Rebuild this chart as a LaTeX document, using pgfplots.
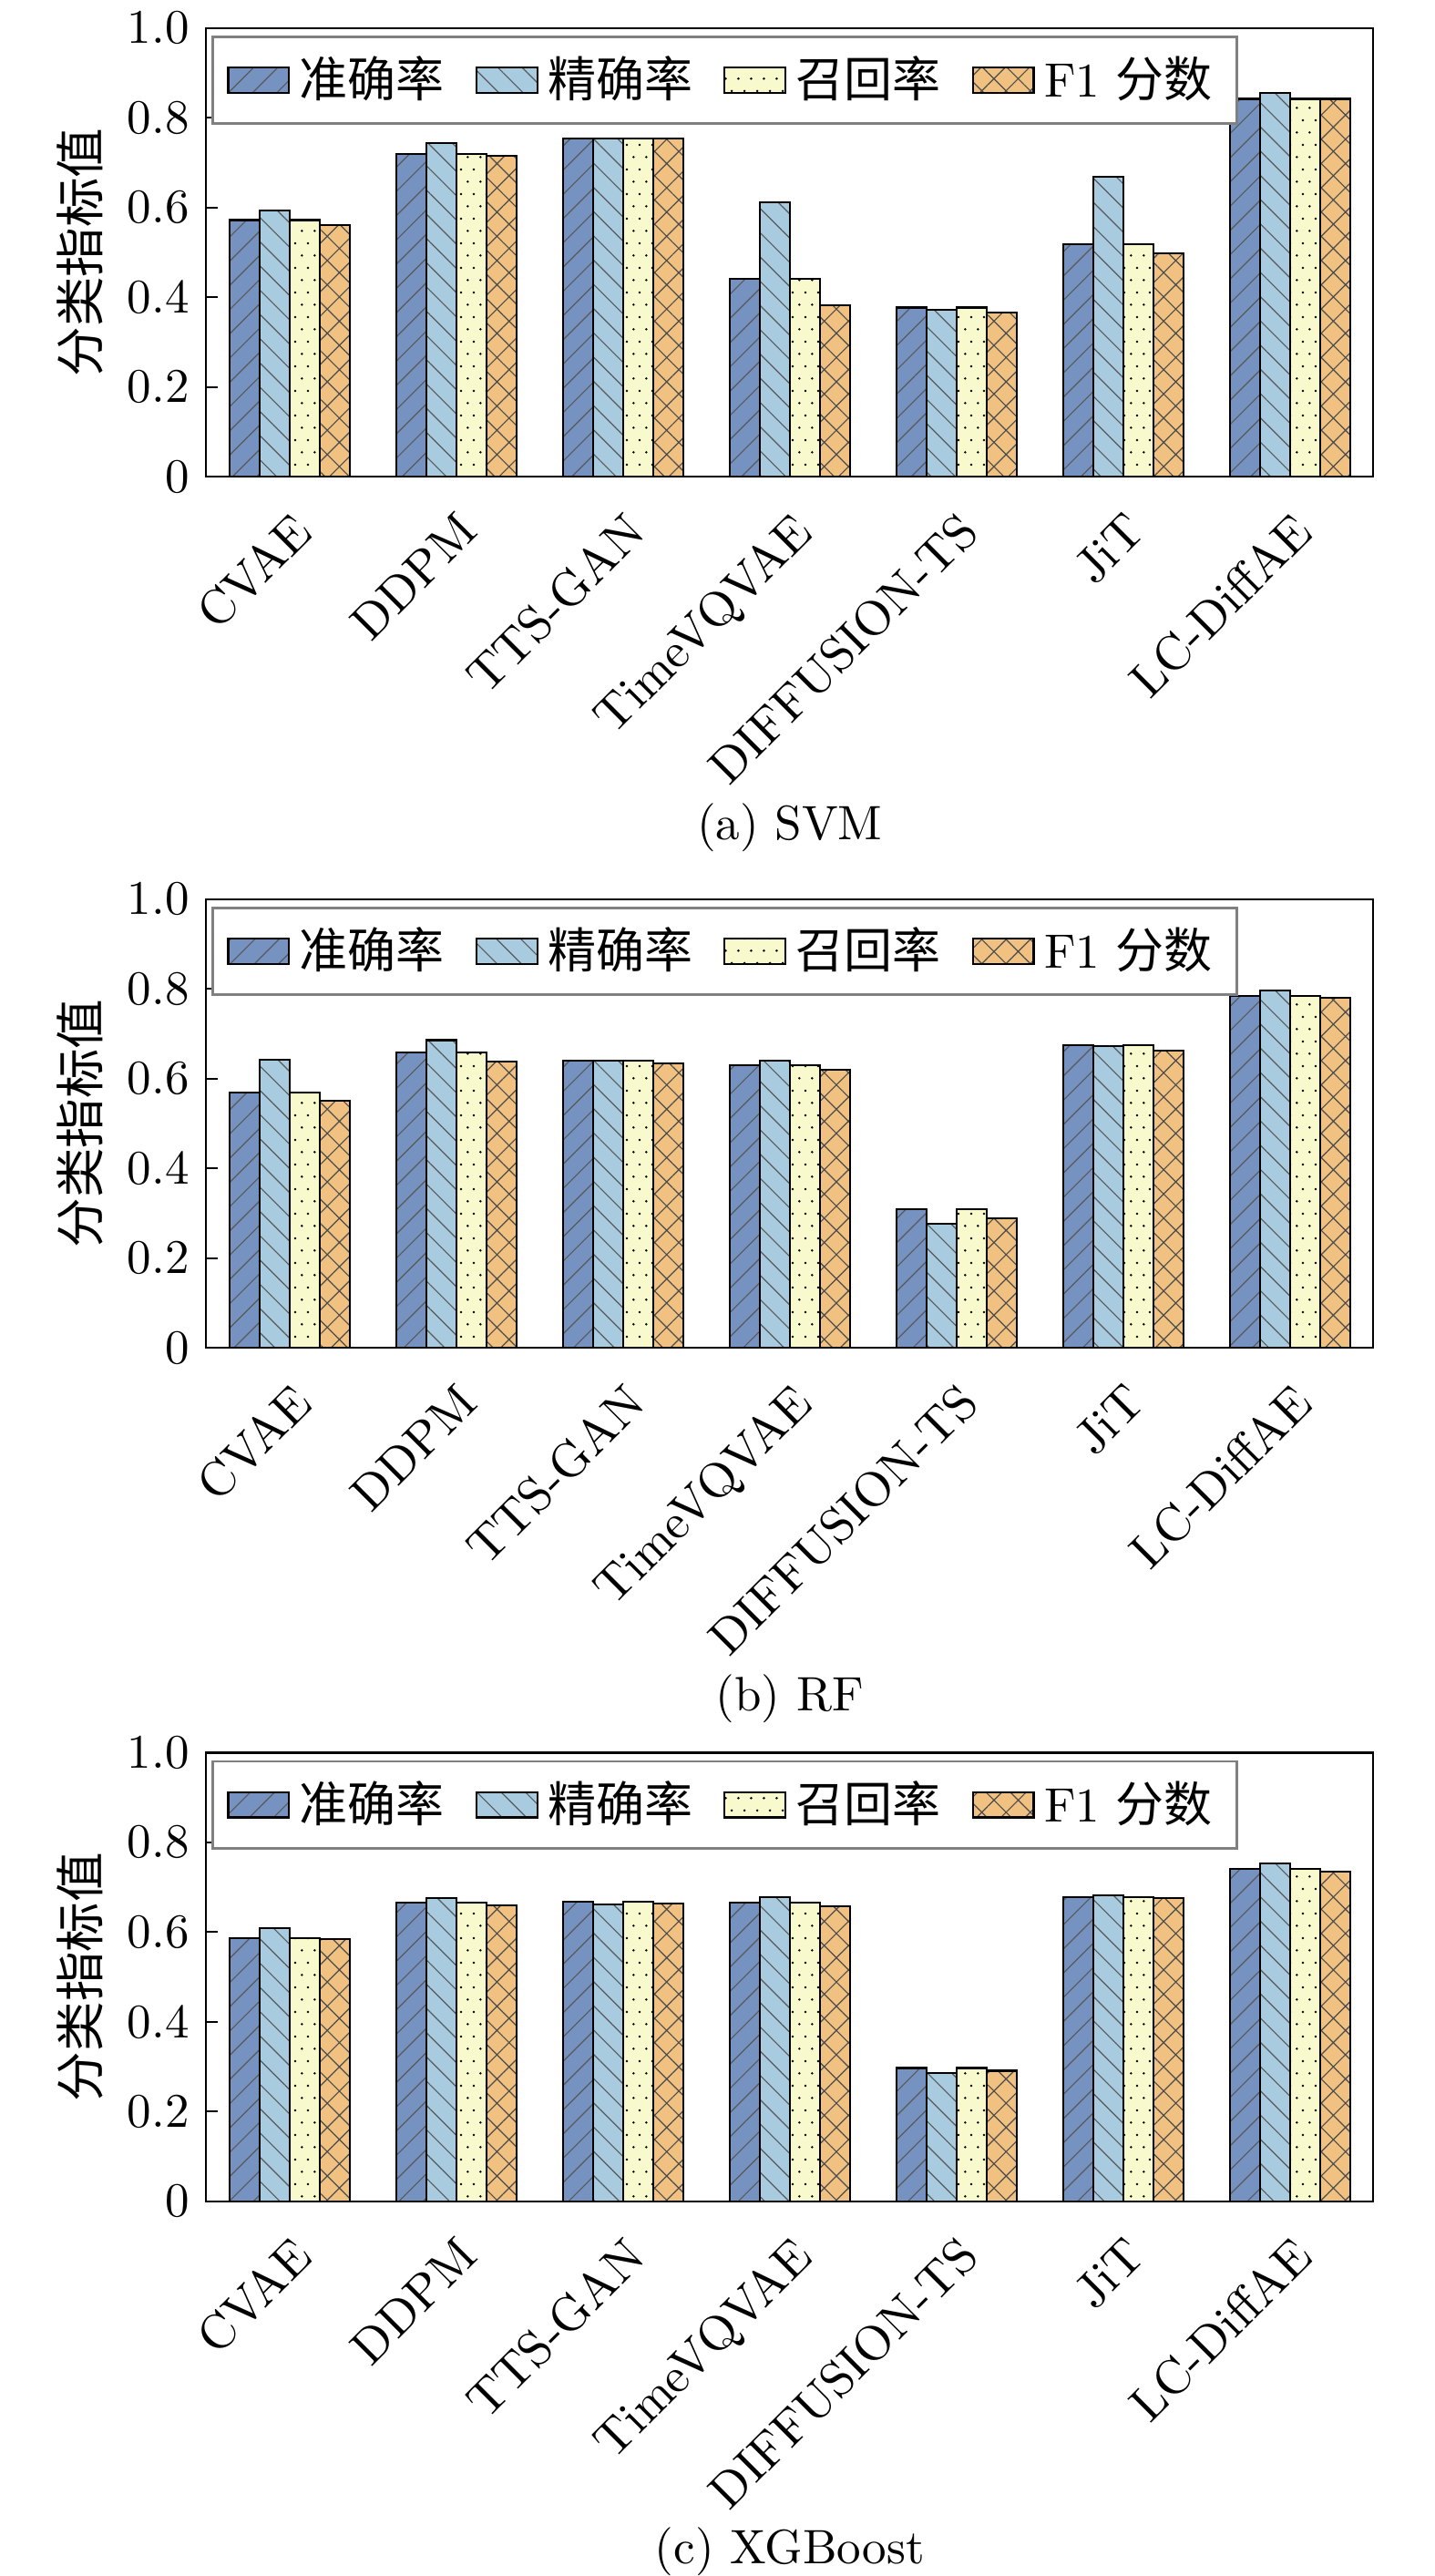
\documentclass[border=0pt]{standalone}
\usepackage{fontspec}
\usepackage{pgfplots}
\usepackage{pgfplotstable}
\pgfplotsset{compat=1.18}
\usetikzlibrary{patterns,patterns.meta}
\newfontfamily\cjk{Noto Sans CJK SC}

\definecolor{cacc}{RGB}{117,146,192}
\definecolor{cprec}{RGB}{168,203,224}
\definecolor{crec}{RGB}{248,250,205}
\definecolor{cf1}{RGB}{240,193,128}

\pgfdeclarepatternformonly{stagdots}{\pgfqpoint{0pt}{0pt}}{\pgfqpoint{2.58pt}{5.16pt}}{\pgfqpoint{2.58pt}{5.16pt}}{%
  \pgfpathcircle{\pgfqpoint{0.645pt}{1.29pt}}{0.27pt}%
  \pgfpathcircle{\pgfqpoint{1.935pt}{3.87pt}}{0.27pt}%
  \pgfusepath{fill}}

\pgfplotstableread{
x acc prec rec f1
0 0.572 0.593 0.572 0.560
1 0.720 0.744 0.720 0.716
2 0.754 0.754 0.754 0.753
3 0.441 0.611 0.441 0.382
4 0.377 0.372 0.377 0.365
5 0.518 0.669 0.518 0.498
6 0.842 0.855 0.842 0.842
}\svm

\pgfplotstableread{
x acc prec rec f1
0 0.569 0.643 0.569 0.551
1 0.659 0.686 0.659 0.638
2 0.640 0.640 0.640 0.634
3 0.630 0.640 0.630 0.620
4 0.310 0.277 0.310 0.289
5 0.675 0.673 0.675 0.663
6 0.784 0.796 0.784 0.780
}\rf

\pgfplotstableread{
x acc prec rec f1
0 0.586 0.608 0.586 0.584
1 0.665 0.675 0.665 0.660
2 0.667 0.661 0.667 0.663
3 0.666 0.678 0.665 0.657
4 0.297 0.285 0.297 0.291
5 0.678 0.682 0.678 0.675
6 0.741 0.753 0.741 0.735
}\xgb

\pgfplotsset{
  panel/.style={
    scale only axis,
    width=241.7pt, height=92.9pt,
    anchor=north west,
    ybar, bar width=0.18,
    xmin=-0.5, xmax=6.5,
    ymin=0, ymax=1,
    xtick={0,1,2,3,4,5,6},
    xticklabels={CVAE,DDPM,TTS-GAN,TimeVQVAE,DIFFUSION-TS,JiT,LC-DiffAE},
    xticklabel style={rotate=45, anchor=north east, inner sep=3pt, font=\fontsize{10.2}{12}\selectfont},
    xtick style={draw=none},
    ytick={0,0.2,0.4,0.6,0.8,1.0},
    yticklabels={0,0.2,0.4,0.6,0.8,1.0},
    ytick pos=left,
    major tick length=2.4pt,
    tick style={black, line width=0.4pt},
    axis line style={line width=0.45pt},
    ylabel={\cjk 分类指标值},
    ylabel style={at={(axis description cs:-0.108,0.5)}, anchor=center, font=\fontsize{10.3}{12}\selectfont},
    legend columns=4,
    legend cell align=left,
    legend style={at={(0.0046,0.983)}, anchor=north west, draw=black!50, line width=0.5pt,
      font=\fontsize{10}{12}\selectfont,
      /tikz/every even column/.append style={column sep=4.4pt}},
    legend image code/.code={\draw[#1] (0pt,-2.6pt) rectangle (12.6pt,2.6pt);},
  },
  sacc/.style={draw=black, line width=0.4pt, fill=cacc, bar shift=-0.27,
    postaction={pattern={Lines[angle=45,distance=3.55pt,line width=0.22pt]}, pattern color=black!65}},
  sprec/.style={draw=black, line width=0.4pt, fill=cprec, bar shift=-0.09,
    postaction={pattern={Lines[angle=-45,distance=3.55pt,line width=0.22pt]}, pattern color=black!65}},
  srec/.style={draw=black, line width=0.4pt, fill=crec, bar shift=0.09,
    postaction={pattern=stagdots, pattern color=black}},
  sf1/.style={draw=black, line width=0.4pt, fill=cf1, bar shift=0.27,
    postaction={pattern={Hatch[angle=45,distance=3.55pt,line width=0.22pt]}, pattern color=black!70}},
}

\begin{document}
\begin{tikzpicture}
\useasboundingbox (-42.7pt,5.8pt) rectangle (254.4pt,-527.6pt);

\begin{axis}[panel, at={(0pt,0pt)}]
\addplot[sacc] table[x=x,y=acc] {\svm};
\addplot[sprec] table[x=x,y=prec] {\svm};
\addplot[srec] table[x=x,y=rec] {\svm};
\addplot[sf1] table[x=x,y=f1] {\svm};
\legend{{\cjk 准确率},{\cjk 精确率},{\cjk 召回率},{F1 \cjk 分数}}
\end{axis}
\node[anchor=base] at (120.85pt,-168.0pt) {(a) SVM};

\begin{axis}[panel, at={(0pt,-180.4pt)}]
\addplot[sacc] table[x=x,y=acc] {\rf};
\addplot[sprec] table[x=x,y=prec] {\rf};
\addplot[srec] table[x=x,y=rec] {\rf};
\addplot[sf1] table[x=x,y=f1] {\rf};
\legend{{\cjk 准确率},{\cjk 精确率},{\cjk 召回率},{F1 \cjk 分数}}
\end{axis}
\node[anchor=base] at (120.85pt,-348.4pt) {(b) RF};

\begin{axis}[panel, at={(0pt,-357.1pt)}]
\addplot[sacc] table[x=x,y=acc] {\xgb};
\addplot[sprec] table[x=x,y=prec] {\xgb};
\addplot[srec] table[x=x,y=rec] {\xgb};
\addplot[sf1] table[x=x,y=f1] {\xgb};
\legend{{\cjk 准确率},{\cjk 精确率},{\cjk 召回率},{F1 \cjk 分数}}
\end{axis}
\node[anchor=base] at (120.85pt,-525.1pt) {(c) XGBoost};
\end{tikzpicture}
\end{document}
